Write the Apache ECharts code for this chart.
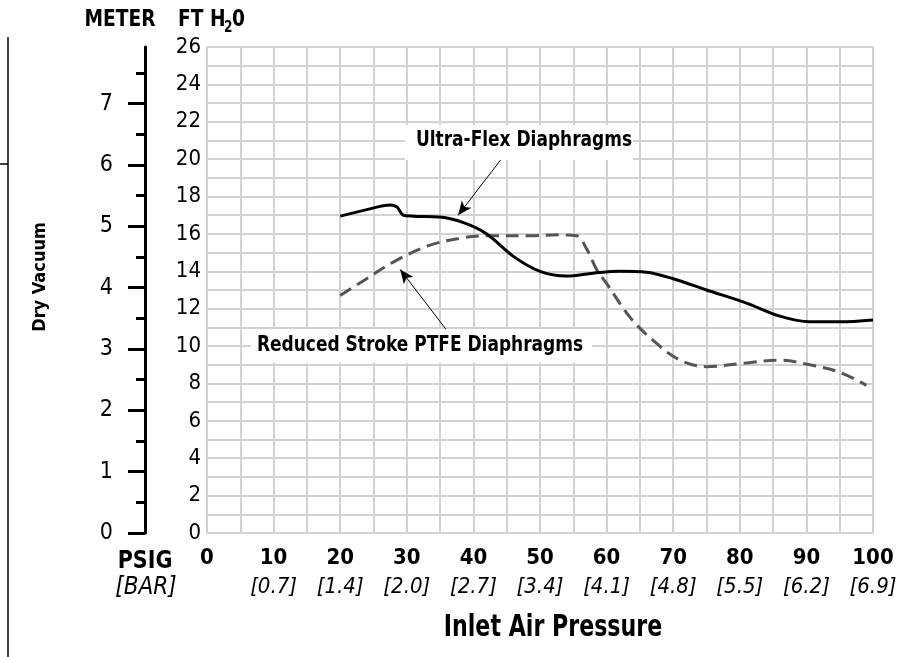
<!DOCTYPE html>
<html>
<head>
<meta charset="utf-8">
<script src="https://cdn.jsdelivr.net/npm/echarts@6/dist/echarts.min.js"></script>
<style>
  html, body { margin: 0; padding: 0; background: #fff; }
  #chart { width: 914px; height: 657px; }
</style>
</head>
<body>
<div id="chart"></div>
<script>
var chartDom = document.getElementById('chart');
var myChart = echarts.init(chartDom);

var F = "'Liberation Sans Narrow', 'DejaVu Sans Condensed', 'Arial Narrow', sans-serif";

// x axis: inlet air pressure
var psigTicks = [0, 10, 20, 30, 40, 50, 60, 70, 80, 90, 100];
var barLabels = ['', '[0.7]', '[1.4]', '[2.0]', '[2.7]', '[3.4]', '[4.1]', '[4.8]', '[5.5]', '[6.2]', '[6.9]'];

// y axis: ft H2O labels and meter ticks
var ftTicks = [0, 2, 4, 6, 8, 10, 12, 14, 16, 18, 20, 22, 24, 26];
var meterTicks = [0, 1, 2, 3, 4, 5, 6, 7];
var meterMinor = [0.5, 1.5, 2.5, 3.5, 4.5, 5.5, 6.5, 7.5];

// Ultra-Flex Diaphragms (solid)
var ultraPsi = [20, 24, 27.5, 28.5, 29.5, 31, 35, 38.5, 42, 46, 50, 54, 58, 62, 66, 70, 75, 81, 86, 90.5, 95, 100];
var ultraFt  = [16.95, 17.3, 17.55, 17.45, 17.0, 16.95, 16.9, 16.6, 16.0, 14.8, 14.0, 13.75, 13.9, 14.0, 13.95, 13.6, 13.0, 12.3, 11.6, 11.3, 11.3, 11.4];

// Reduced Stroke PTFE Diaphragms (dashed)
var ptfePsi = [20, 23.5, 28.5, 33.5, 38.5, 42.5, 48.5, 53, 55.5, 57, 58.5, 60, 63.5, 67, 71, 75, 81, 86, 90.5, 95, 99];
var ptfeFt  = [12.7, 13.5, 14.6, 15.4, 15.8, 15.9, 15.9, 15.95, 15.9, 15.2, 14.1, 13.35, 11.55, 10.3, 9.25, 8.9, 9.1, 9.25, 9.0, 8.6, 7.9];

var FT_PER_M = 3.28084;
var gridCol = '#d2d2d2';

function pairs(xs, ys) {
  return xs.map(function (x, i) { return [x, ys[i]]; });
}

myChart.setOption({
  animation: false,
  grid: { left: 207, right: 41, top: 47, bottom: 124 },
  xAxis: {
    type: 'value', min: 0, max: 100, interval: 5,
    axisLine: { show: true, lineStyle: { color: gridCol, width: 2 } },
    axisTick: { show: false },
    splitLine: { show: true, lineStyle: { color: gridCol, width: 2 } },
    axisLabel: {
      customValues: psigTicks,
      margin: 11,
      formatter: function (v) {
        var i = psigTicks.indexOf(v);
        return '{p|' + v + '}\n{b|' + (barLabels[i] || ' ') + '}';
      },
      rich: {
        p: { fontFamily: F, fontWeight: 'bold', fontSize: 22, lineHeight: 28, color: '#000' },
        b: { fontFamily: F, fontStyle: 'italic', fontSize: 22, lineHeight: 30, color: '#000' }
      }
    }
  },
  yAxis: [
    {
      type: 'value', min: 0, max: 26, interval: 1,
      axisLine: { show: false },
      axisTick: { show: false },
      splitLine: { show: true, lineStyle: { color: gridCol, width: 2 } },
      axisLabel: { customValues: ftTicks, margin: 6, fontFamily: F, fontSize: 22, color: '#000' }
    },
    {
      type: 'value', min: 0, max: 26 / FT_PER_M, position: 'left', offset: 62,
      axisLine: { show: true, lineStyle: { color: '#000', width: 3 } },
      axisTick: { show: true, customValues: meterTicks, length: 17, lineStyle: { color: '#000', width: 3 } },
      splitLine: { show: false },
      axisLabel: { customValues: meterTicks, margin: 32, fontFamily: F, fontSize: 23, color: '#000' }
    },
    {
      type: 'value', min: 0, max: 26 / FT_PER_M, position: 'left', offset: 62,
      axisLine: { show: false },
      axisTick: { show: true, customValues: meterMinor, length: 9, lineStyle: { color: '#000', width: 3 } },
      splitLine: { show: false },
      axisLabel: { show: false }
    }
  ],
  series: [
    {
      name: 'Ultra-Flex Diaphragms',
      type: 'line',
      data: pairs(ultraPsi, ultraFt),
      smooth: 0.35,
      showSymbol: false,
      lineStyle: { color: '#000', width: 3 },
      z: 5,
      markLine: {
        silent: true,
        symbol: ['none', 'arrow'],
        symbolSize: [9, 14],
        label: { show: false },
        lineStyle: { color: '#000', width: 1, type: 'solid' },
        data: [
          [{ coord: [44.4, 20.1] }, { coord: [37.7, 17.0] }],
          [{ coord: [36.2, 10.75] }, { coord: [29.0, 14.1] }]
        ]
      }
    },
    {
      name: 'Reduced Stroke PTFE Diaphragms',
      type: 'line',
      data: pairs(ptfePsi, ptfeFt),
      smooth: 0.35,
      showSymbol: false,
      lineStyle: { color: '#555', width: 3, type: [13, 7] },
      z: 4
    }
  ],
  graphic: [
    { type: 'line', shape: { x1: 8, y1: 37, x2: 8, y2: 657 }, style: { stroke: '#000', lineWidth: 1.5 } },
    { type: 'line', shape: { x1: 0, y1: 164, x2: 8, y2: 164 }, style: { stroke: '#000', lineWidth: 1.5 } },
    { type: 'text', x: 120, y: 20, scaleX: 0.9, style: { text: 'METER', font: 'bold 23px ' + F, fill: '#000', align: 'center', verticalAlign: 'middle' } },
    { type: 'text', x: 178, y: 20, scaleX: 0.9, style: { text: 'FT H', font: 'bold 23px ' + F, fill: '#000', align: 'left', verticalAlign: 'middle' } },
    { type: 'text', x: 224, y: 28, scaleX: 0.9, style: { text: '2', font: 'bold 15px ' + F, fill: '#000', align: 'left', verticalAlign: 'middle' } },
    { type: 'text', x: 232, y: 20, scaleX: 0.9, style: { text: '0', font: 'bold 23px ' + F, fill: '#000', align: 'left', verticalAlign: 'middle' } },
    { type: 'text', x: 40, y: 277, rotation: Math.PI / 2, style: { text: 'Dry Vacuum', font: 'bold 18px ' + F, fill: '#000', align: 'center', verticalAlign: 'middle' } },
    { type: 'text', x: 145, y: 561, scaleX: 0.92, style: { text: 'PSIG', font: 'bold 25px ' + F, fill: '#000', align: 'center', verticalAlign: 'middle' } },
    { type: 'text', x: 146, y: 588, style: { text: '[BAR]', font: 'italic 24px ' + F, fill: '#000', align: 'center', verticalAlign: 'middle' } },
    { type: 'text', x: 553, y: 628, scaleX: 0.82, style: { text: 'Inlet Air Pressure', font: 'bold 30px ' + F, fill: '#000', align: 'center', verticalAlign: 'middle' } },
    { type: 'rect', z: 50, shape: { x: 405, y: 125, width: 228, height: 35 }, style: { fill: '#fff' } },
    { type: 'text', z: 51, x: 524, y: 141, scaleX: 0.9, style: { text: 'Ultra-Flex Diaphragms', font: 'bold 21px ' + F, fill: '#000', align: 'center', verticalAlign: 'middle' } },
    { type: 'rect', z: 50, shape: { x: 251, y: 329, width: 341, height: 34 }, style: { fill: '#fff' } },
    { type: 'text', z: 51, x: 420, y: 346, scaleX: 0.9, style: { text: 'Reduced Stroke PTFE Diaphragms', font: 'bold 21px ' + F, fill: '#000', align: 'center', verticalAlign: 'middle' } }
  ]
});
</script>
</body>
</html>
